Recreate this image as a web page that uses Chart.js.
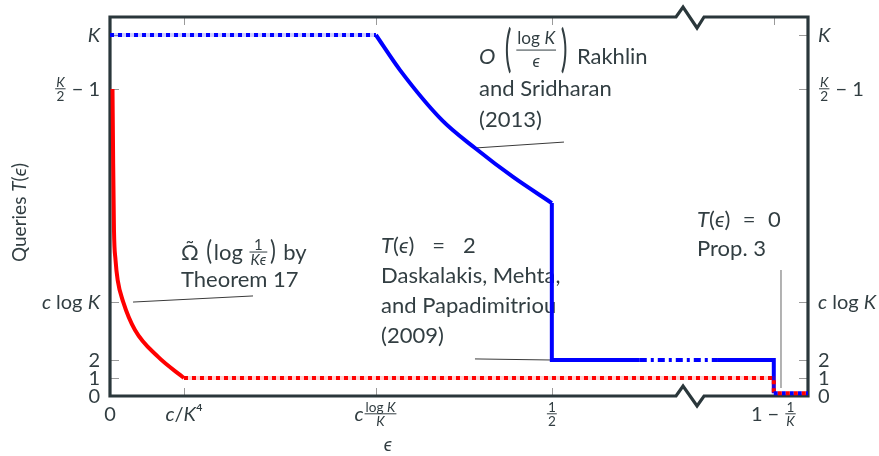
<!DOCTYPE html>
<html>
<head>
<meta charset="utf-8">
<script src="https://cdn.jsdelivr.net/npm/chart.js@4"></script>
<style>
    html, body { margin: 0; background: #fff; }
    #wrap { width: 879px; height: 456px; position: relative; }
</style>
</head>
<body>
<div id="wrap"><canvas id="chart"></canvas></div>
<script>
// Axis ticks (values on an arbitrary 0..100 eps scale, queries scale)
const xTickValues = [0, 10.6, 38.1, 63.3, 95.1];
const xTickLabels = ['0', '*c*/*K*⁴', '*c*[log *K*|*K*]', '[1|2]', '1 − [1|*K*]'];
const yTickValues = [0, 1, 2, 5.22, 17.06, 20.06];
const yTickLabels = ['0', '1', '2', '*c* log *K*', '[*K*|2] − 1', '*K*'];
const xBreak = 83.1;

// Lower bound (red)
const lowerCurveX = [0.36, 0.45, 0.57, 0.79, 1.1, 1.9, 3.58, 6.9, 10.6];
const lowerCurveY = [17.06, 13.1, 9.22, 7.56, 6.44, 5.22, 3.67, 2.17, 1];
const lowerFlatX = [10.6, 95.1, 95.1];
const lowerFlatY = [1, 1, 0.15];
const zeroX = [95.1, 100];
const zeroY = [0.15, 0.15];

// Upper bound (blue)
const upperTopX = [0, 38.1];
const upperTopY = [20.06, 20.06];
const upperCurveX = [38.1, 41.55, 47.56, 52.29, 57.74, 63.3];
const upperCurveY = [20.06, 18.11, 15.33, 13.78, 12.17, 10.72];
const upperStepX = [63.3, 63.3, 75.9];
const upperStepY = [10.72, 2, 2];
const upperBreakX = [75.9, 87.1];
const upperBreakY = [2, 2];
const upperTailX = [87.1, 95.1, 95.1];
const upperTailY = [2, 2, 0.15];

// Leader lines for the annotations
const leaderLowerX = [3.3, 20.49];
const leaderLowerY = [5.22, 5.56];
const leaderUpperX = [52.29, 65.04];
const leaderUpperY = [13.78, 14.11];
const leaderDaskX = [52.29, 63.3];
const leaderDaskY = [2.06, 2.0];
const leaderPropX = [96.13, 96.13];
const leaderPropY = [7.0, 0.44];

// Annotation text, anchored in data coordinates (left edge, baseline)
const notes = [
    { x: 10.17, y: 7.56, text: 'Ω̃ ⟨log [1|*Kϵ*]⟩ by' },
    { x: 10.17, y: 6.06, text: 'Theorem 17' },
    { x: 52.87, y: 18.44, text: '*O* ⦅{log *K*|*ϵ*}⦆ Rakhlin' },
    { x: 52.87, y: 16.67, text: 'and Sridharan' },
    { x: 52.87, y: 14.94, text: '(2013)' },
    { x: 38.83, y: 7.94, text: '*T*(*ϵ*)\u2003\u200A=\u2003\u200A2' },
    { x: 38.83, y: 6.28, text: 'Daskalakis, Mehta,' },
    { x: 38.83, y: 4.61, text: 'and Papadimitriou' },
    { x: 38.83, y: 2.94, text: '(2009)' },
    { x: 84.1, y: 9.39, text: '*T*(*ϵ*)\u2002\u200A=\u2002\u200A0' },
    { x: 84.1, y: 7.78, text: 'Prop. 3' }
];

const FONT = 'Lato, "DejaVu Sans", sans-serif';
const TEXT = '#323e42';
const AXIS = '#2a373b';
const RED = '#ff0000';
const BLUE = '#0000ff';

function font(size, italic) {
    return (italic ? 'italic ' : '') + size.toFixed(1) + 'px ' + FONT;
}

// tiny markup: *x* italic, [a|b] inline fraction, {a|b} display fraction, ⟨⟩ / ⦅⦆ big parens
function parse(str) {
    const out = [];
    const re = /\[([^\]|]*)\|([^\]]*)\]|\{([^}|]*)\|([^}]*)\}|\*([^*]+)\*|([⟨⟩⦅⦆])|([^\[{*⟨⟩⦅⦆]+)/g;
    let m;
    while ((m = re.exec(str))) {
        if (m[1] !== undefined) out.push({ frac: [m[1], m[2]] });
        else if (m[3] !== undefined) out.push({ frac: [m[3], m[4]], disp: true });
        else if (m[5] !== undefined) out.push({ t: m[5], it: true });
        else if (m[6]) {
            const open = m[6] === '⟨' || m[6] === '⦅';
            const big = m[6] === '⦅' || m[6] === '⦆';
            out.push({
                paren: open ? '(' : ')',
                scale: big ? 2.3 : 1.25,
                sx: big ? 0.5 : 0.8,
                dy: big ? 0.1 : 0,
                pad: big ? 0.17 : 0.08
            });
        } else out.push({ t: m[7] });
    }
    return out;
}

function rich(ctx, str, x, y, size, draw) {
    let w = 0;
    for (const p of parse(str)) {
        if (p.frac) {
            const s = size * (p.disp ? 0.78 : 0.68);
            const wn = rich(ctx, p.frac[0], 0, 0, s, false);
            const wd = rich(ctx, p.frac[1], 0, 0, s, false);
            const fw = Math.max(wn, wd) + 4;
            if (draw) {
                const bar = y - size * (p.disp ? 0.64 : 0.36);
                const nb = p.disp ? bar - 6 : bar - 2;
                const db = p.disp ? bar + s * 0.72 + 5 : bar + 2 + s * 0.72;
                rich(ctx, p.frac[0], x + w + (fw - wn) / 2, nb, s, true);
                rich(ctx, p.frac[1], x + w + (fw - wd) / 2, db, s, true);
                ctx.fillRect(x + w + 1, bar - 0.5, fw - 2, 1);
            }
            w += fw;
        } else if (p.paren) {
            ctx.font = font(size * p.scale);
            const pw = ctx.measureText(p.paren).width * p.sx;
            w += p.pad * size;
            if (draw) {
                ctx.save();
                ctx.translate(x + w, y + p.dy * size);
                ctx.scale(p.sx, 1);
                ctx.fillText(p.paren, 0, 0);
                ctx.restore();
            }
            w += pw + p.pad * size;
        } else {
            ctx.font = font(size, p.it);
            if (draw) ctx.fillText(p.t, x + w, y);
            w += ctx.measureText(p.t).width;
        }
    }
    return w;
}

function drawRich(ctx, str, x, y, size, align) {
    const w = rich(ctx, str, 0, 0, size, false);
    if (align === 'right') x -= w;
    else if (align === 'center') x -= w / 2;
    rich(ctx, str, x, y, size, true);
}

const pts = (xs, ys) => xs.map((x, i) => ({ x, y: ys[i] }));

function line(xs, ys, color, width, extra) {
    return Object.assign({
        data: pts(xs, ys),
        showLine: true,
        borderColor: color,
        borderWidth: width,
        borderCapStyle: 'butt',
        pointRadius: 0,
        fill: false,
        clip: false,
        tension: 0
    }, extra || {});
}

const dotted = { borderDash: [4, 4] };

// Frame with axis break, inward tick marks, annotation text
const framePlugin = {
    id: 'frame',
    beforeDatasetsDraw(chart) {
        const { ctx, chartArea: a, scales: { x, y } } = chart;
        const bx = x.getPixelForValue(xBreak);
        ctx.save();

        // tick marks
        ctx.strokeStyle = '#9a9a9a';
        ctx.lineWidth = 1;
        ctx.beginPath();
        xTickValues.forEach(v => {
            if (v === 0) return;
            const px = Math.round(x.getPixelForValue(v)) + 0.5;
            ctx.moveTo(px, a.top); ctx.lineTo(px, a.top + 8);
            ctx.moveTo(px, a.bottom); ctx.lineTo(px, a.bottom - 8);
        });
        yTickValues.forEach(v => {
            if (v === 0) return;
            const py = Math.round(y.getPixelForValue(v)) + 0.5;
            ctx.moveTo(a.left, py); ctx.lineTo(a.left + 9, py);
            ctx.moveTo(a.right, py); ctx.lineTo(a.right - 9, py);
        });
        ctx.stroke();

        // frame
        ctx.strokeStyle = AXIS;
        ctx.lineWidth = 3.2;
        ctx.lineJoin = 'miter';
        ctx.beginPath();
        ctx.moveTo(a.left, a.bottom);
        ctx.lineTo(a.left, a.top);
        ctx.lineTo(bx - 14, a.top);
        ctx.lineTo(bx - 7, a.top - 10);
        ctx.lineTo(bx + 7, a.top + 11);
        ctx.lineTo(bx + 14, a.top);
        ctx.lineTo(a.right, a.top);
        ctx.lineTo(a.right, a.bottom);
        ctx.lineTo(bx + 14, a.bottom);
        ctx.lineTo(bx + 7, a.bottom + 10);
        ctx.lineTo(bx - 7, a.bottom - 10);
        ctx.lineTo(bx - 14, a.bottom);
        ctx.closePath();
        ctx.stroke();

        // annotation text
        ctx.fillStyle = TEXT;
        ctx.textAlign = 'left';
        ctx.textBaseline = 'alphabetic';
        notes.forEach(n => {
            drawRich(ctx, n.text, x.getPixelForValue(n.x), y.getPixelForValue(n.y), 22, 'left');
        });
        ctx.restore();
    },
    afterDraw(chart) {
        const { ctx, chartArea: a, scales: { x, y } } = chart;
        ctx.save();
        ctx.fillStyle = TEXT;
        ctx.textAlign = 'left';
        ctx.textBaseline = 'alphabetic';

        yTickValues.forEach((v, i) => {
            const py = y.getPixelForValue(v) + 7;
            drawRich(ctx, yTickLabels[i], a.left - 10, py, 20, 'right');
            drawRich(ctx, yTickLabels[i], a.right + 10, py, 20, 'left');
        });
        xTickValues.forEach((v, i) => {
            drawRich(ctx, xTickLabels[i], x.getPixelForValue(v), a.bottom + 25, 20, 'center');
        });

        // axis titles
        drawRich(ctx, '*ϵ*', 388, a.bottom + 55, 19, 'center');
        ctx.translate(26, (a.top + a.bottom) / 2 + 6);
        ctx.rotate(-Math.PI / 2);
        drawRich(ctx, 'Queries *T*(*ϵ*)', 0, 0, 19, 'center');
        ctx.restore();
    }
};

new Chart(document.getElementById('chart').getContext('2d'), {
    type: 'scatter',
    data: {
        datasets: [
            line(zeroX, zeroY, RED, 4, { borderDash: [4, 4], borderDashOffset: 4 }),
            line(zeroX, zeroY, BLUE, 4, dotted),
            line(lowerFlatX, lowerFlatY, RED, 4, dotted),
            line(lowerFlatX, lowerFlatY, 'rgba(255,0,0,0.18)', 4),
            line(lowerCurveX, lowerCurveY, RED, 4, { cubicInterpolationMode: 'monotone' }),
            line(upperTailX, upperTailY, BLUE, 4),
            line(upperBreakX, upperBreakY, BLUE, 4, { borderDash: [7, 4, 3, 4] }),
            line(upperStepX, upperStepY, BLUE, 4),
            line(upperCurveX, upperCurveY, BLUE, 4, { cubicInterpolationMode: 'monotone' }),
            line(upperTopX, upperTopY, BLUE, 4, dotted),
            line(upperTopX, upperTopY, 'rgba(0,0,255,0.18)', 4),
            line(leaderLowerX, leaderLowerY, '#3a3a3a', 1),
            line(leaderUpperX, leaderUpperY, '#3a3a3a', 1),
            line(leaderDaskX, leaderDaskY, '#3a3a3a', 1),
            line(leaderPropX, leaderPropY, '#9a9a9a', 1.5)
        ]
    },
    options: {
        responsive: true,
        maintainAspectRatio: false,
        animation: false,
        events: [],
        layout: { padding: { left: 110, right: 71, top: 17, bottom: 60 } },
        plugins: {
            legend: { display: false },
            tooltip: { enabled: false }
        },
        scales: {
            x: { type: 'linear', min: 0, max: 100, display: false },
            y: { type: 'linear', min: 0, max: 21.06, display: false }
        }
    },
    plugins: [framePlugin]
});
</script>
</body>
</html>
